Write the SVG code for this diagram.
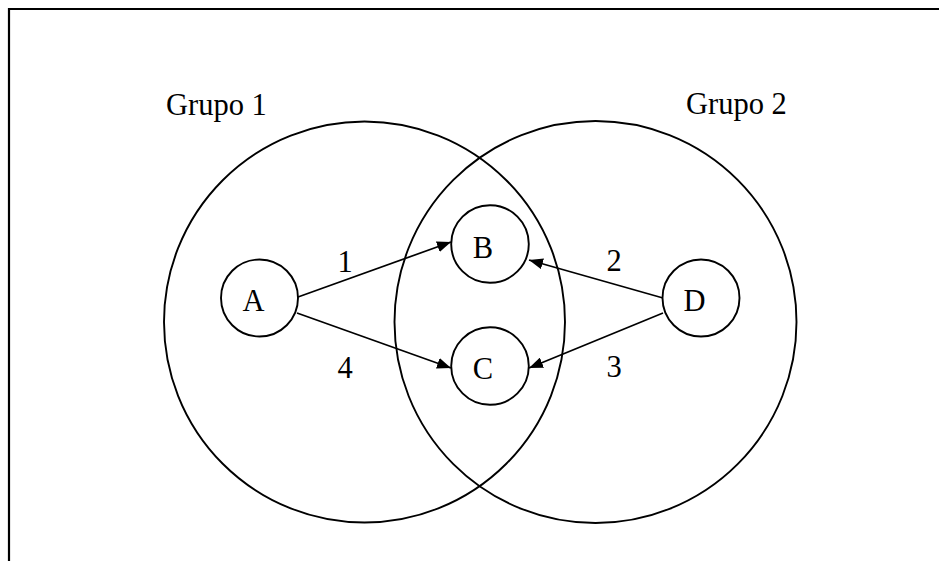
<svg xmlns="http://www.w3.org/2000/svg" width="939" height="561" viewBox="0 0 939 561">
<style>
.frame{fill:none;stroke:#000;stroke-width:2.2}
.big{fill:none;stroke:#000;stroke-width:1.9}
.node{fill:#fff;stroke:#000;stroke-width:1.9}
.edge{fill:none;stroke:#000;stroke-width:1.7}
text{font-family:"Liberation Serif","Times New Roman",serif;font-size:30.5px;fill:#000}
</style>
<defs>
<marker id="arr" viewBox="0 0 14 11" refX="14" refY="5.5" markerWidth="14" markerHeight="11" markerUnits="userSpaceOnUse" orient="auto">
<path d="M0,0 L14,5.5 L0,11 Z" fill="#000"/>
</marker>
</defs>
<rect width="939" height="561" fill="#fff"/>
<path class="frame" d="M9,561 V9 H939"/>
<g id="grupo1">
<circle class="big" cx="364.5" cy="322" r="200.5"/>
<text x="166" y="115">Grupo 1</text>
</g>
<g id="grupo2">
<circle class="big" cx="595.5" cy="322" r="201"/>
<text x="686" y="114">Grupo 2</text>
</g>
<g id="connectors">
<line class="edge" x1="298" y1="297" x2="451" y2="242" marker-end="url(#arr)"/>
<line class="edge" x1="297" y1="313" x2="451" y2="368" marker-end="url(#arr)"/>
<line class="edge" x1="663" y1="298" x2="529" y2="260" marker-end="url(#arr)"/>
<line class="edge" x1="663" y1="313" x2="529" y2="368" marker-end="url(#arr)"/>
<text x="345" y="272" text-anchor="middle">1</text>
<text x="614" y="271" text-anchor="middle">2</text>
<text x="614" y="377" text-anchor="middle">3</text>
<text x="345" y="378" text-anchor="middle">4</text>
</g>
<g id="nodeA">
<circle class="node" cx="259.5" cy="298" r="38.5"/>
<text x="253.5" y="311" text-anchor="middle">A</text>
</g>
<g id="nodeB">
<circle class="node" cx="490" cy="244" r="38.8"/>
<text x="483" y="258" text-anchor="middle">B</text>
</g>
<g id="nodeC">
<circle class="node" cx="490" cy="366" r="38.8"/>
<text x="483" y="379" text-anchor="middle">C</text>
</g>
<g id="nodeD">
<circle class="node" cx="701" cy="298" r="38.5"/>
<text x="694.5" y="311" text-anchor="middle">D</text>
</g>
</svg>
